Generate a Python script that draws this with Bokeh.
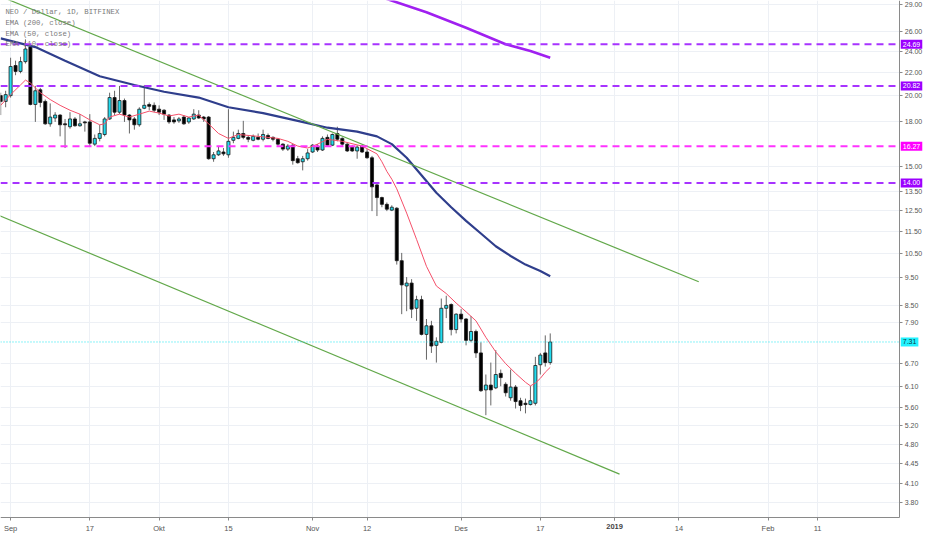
import pandas as pd
from datetime import datetime
from bokeh.plotting import figure
from bokeh.models import (Range1d, FixedTicker, PrintfTickFormatter, Label,
                          ColumnDataSource, DatetimeAxis)
from bokeh.embed import file_html
from bokeh.resources import INLINE

# ---------------- data ----------------
start_date = "2018-08-30"
end_date = "2018-12-19"
opens = [20.01, 19.54, 20.01, 22.63, 22.09, 22.99, 24.40, 19.30, 20.49, 19.54,
         17.83, 18.26, 18.48, 17.83, 17.62, 18.19, 17.69, 17.97, 17.97, 16.41,
         16.80, 17.07, 18.19, 19.85, 18.70, 19.61, 18.48, 18.19, 17.76, 19.00,
         19.30, 19.23, 18.93, 18.85, 18.48, 18.12, 18.05, 18.33, 17.97, 18.19,
         18.48, 18.33, 18.33, 15.46, 15.71, 15.89, 15.71, 16.67, 16.80, 17.14,
         16.87, 16.67, 16.87, 16.74, 17.00, 16.87, 16.74, 16.41, 16.08, 16.34,
         15.46, 15.27, 15.46, 15.89, 16.28, 16.02, 16.87, 16.34, 17.14, 16.80,
         16.41, 16.21, 15.96, 16.28, 15.89, 15.52, 13.89, 13.19, 12.83, 12.53,
         12.63, 10.19, 9.19, 9.30, 8.39, 8.69, 7.54, 7.81, 7.21, 7.30,
         8.39, 8.52, 7.69, 8.19, 8.03, 7.36, 7.63, 6.99, 6.01, 6.13,
         6.06, 6.43, 6.15, 5.82, 6.08, 5.75, 5.69, 5.66, 5.69, 6.66,
         6.99, 6.72]
highs = [20.25, 20.41, 23.36, 23.08, 23.45, 25.18, 24.69, 20.82, 20.65, 19.69,
         19.38, 18.70, 18.55, 18.19, 18.70, 18.33, 18.55, 18.05, 18.55, 17.07,
         17.76, 18.33, 20.25, 20.41, 20.82, 19.77, 18.55, 18.33, 19.08, 20.90,
         19.46, 19.46, 19.23, 18.93, 18.55, 18.33, 18.33, 18.48, 18.33, 18.93,
         18.85, 18.41, 18.41, 15.89, 16.28, 16.15, 18.93, 17.27, 17.41, 18.05,
         17.00, 17.07, 17.14, 17.41, 17.14, 16.94, 16.80, 16.47, 16.41, 16.41,
         15.64, 15.64, 16.08, 16.41, 16.41, 16.94, 17.07, 17.14, 17.62, 16.87,
         16.47, 16.34, 16.34, 16.34, 16.08, 15.64, 14.00, 13.24, 12.93, 12.78,
         12.68, 10.52, 9.53, 9.45, 8.83, 8.83, 8.03, 7.97, 7.45, 8.73,
         8.83, 8.56, 8.22, 8.36, 8.06, 8.13, 7.69, 7.30, 6.40, 6.72,
         7.07, 6.53, 6.20, 6.53, 6.13, 5.82, 5.80, 6.11, 6.88, 6.99,
         7.51, 7.57]
lows = [18.48, 19.08, 19.85, 21.75, 21.92, 22.81, 19.23, 17.97, 19.08, 17.76,
        17.62, 17.97, 16.94, 16.15, 17.48, 17.62, 17.62, 17.27, 16.28, 16.28,
        16.60, 16.94, 18.12, 18.48, 18.55, 17.97, 17.14, 17.41, 17.62, 18.93,
        18.85, 18.70, 18.48, 18.12, 17.83, 17.83, 17.90, 17.76, 17.83, 18.12,
        18.19, 17.97, 15.40, 15.27, 15.64, 15.64, 15.52, 16.47, 16.74, 16.74,
        16.54, 16.60, 16.67, 16.60, 16.74, 16.60, 16.28, 15.96, 15.96, 15.09,
        15.15, 14.74, 15.34, 15.83, 15.89, 15.96, 16.28, 16.28, 16.60, 16.28,
        15.89, 15.89, 15.46, 15.83, 15.46, 12.48, 12.23, 12.68, 12.48, 12.48,
        10.03, 8.19, 8.29, 8.06, 7.97, 7.51, 6.80, 6.99, 6.72, 7.27,
        8.06, 7.51, 7.57, 7.91, 7.21, 7.30, 6.85, 5.96, 5.42, 5.64,
        6.03, 6.10, 5.85, 5.75, 5.57, 5.51, 5.46, 5.64, 5.64, 6.40,
        6.61, 6.66]
closes = [19.54, 20.09, 22.54, 22.09, 22.99, 24.21, 19.30, 20.41, 19.46, 17.83,
          18.33, 18.48, 17.76, 17.76, 18.19, 17.69, 17.83, 17.90, 16.47, 16.80,
          17.14, 18.19, 19.85, 18.70, 19.61, 18.48, 18.12, 17.76, 18.93, 19.23,
          19.15, 18.85, 18.70, 18.55, 17.97, 17.97, 18.19, 17.83, 18.26, 18.55,
          18.26, 18.19, 15.46, 15.71, 15.96, 15.77, 16.60, 16.87, 17.14, 16.87,
          16.74, 16.94, 16.74, 17.07, 16.80, 16.74, 16.41, 16.08, 16.28, 15.34,
          15.21, 15.46, 15.83, 16.34, 16.02, 16.80, 16.34, 17.07, 16.74, 16.41,
          15.96, 15.96, 16.21, 15.89, 15.52, 13.78, 13.19, 12.83, 12.58, 12.68,
          10.19, 9.23, 9.30, 8.36, 8.69, 7.54, 7.81, 7.19, 7.33, 8.39,
          8.49, 7.69, 8.19, 8.03, 7.36, 7.63, 6.99, 5.99, 6.13, 6.01,
          6.40, 6.32, 5.94, 6.08, 5.73, 5.64, 5.66, 5.75, 6.64, 6.93,
          6.72, 7.31]

ema10_dates = ["2018-08-30", "2018-09-01", "2018-09-03", "2018-09-04", "2018-09-05", "2018-09-07",
               "2018-09-09", "2018-09-11", "2018-09-13", "2018-09-15", "2018-09-17", "2018-09-19",
               "2018-09-20", "2018-09-21", "2018-09-23", "2018-09-25", "2018-09-27", "2018-09-29",
               "2018-10-01", "2018-10-03", "2018-10-05", "2018-10-07", "2018-10-09", "2018-10-11",
               "2018-10-13", "2018-10-15", "2018-10-17", "2018-10-21", "2018-10-25", "2018-10-27",
               "2018-10-29", "2018-10-31", "2018-11-02", "2018-11-04", "2018-11-07", "2018-11-11",
               "2018-11-14", "2018-11-15", "2018-11-16", "2018-11-17", "2018-11-18", "2018-11-20",
               "2018-11-22", "2018-11-24", "2018-11-26", "2018-11-28", "2018-11-30", "2018-12-02",
               "2018-12-04", "2018-12-06", "2018-12-08", "2018-12-10", "2018-12-12", "2018-12-14",
               "2018-12-15", "2018-12-16", "2018-12-17", "2018-12-18", "2018-12-19"]
ema10 = [19.23, 20.09, 20.90, 21.32, 21.07, 20.25,
         19.69, 19.23, 18.85, 18.55, 18.12, 17.76,
         17.83, 18.33, 18.55, 18.33, 18.55, 18.78,
         18.63, 18.41, 18.55, 18.33, 18.48, 17.83,
         17.14, 16.80, 17.07, 16.94, 16.80, 16.60,
         16.28, 16.15, 16.41, 16.74, 16.60, 16.28,
         15.77, 15.27, 14.68, 14.22, 13.67, 12.38,
         11.12, 9.96, 9.19, 8.91, 8.57, 8.27,
         7.97, 7.45, 7.02, 6.69, 6.43, 6.20,
         6.11, 6.18, 6.30, 6.46, 6.59]

ema50_dates = ["2018-08-30", "2018-09-06", "2018-09-12", "2018-09-19", "2018-09-26", "2018-10-02",
               "2018-10-09", "2018-10-15", "2018-10-22", "2018-10-29", "2018-11-04", "2018-11-10",
               "2018-11-14", "2018-11-17", "2018-11-20", "2018-11-23", "2018-11-26", "2018-11-29",
               "2018-12-02", "2018-12-05", "2018-12-08", "2018-12-11", "2018-12-14", "2018-12-17",
               "2018-12-19"]
ema50 = [25.28, 24.40, 23.08, 21.66, 20.90, 20.33,
         19.85, 19.08, 18.63, 18.05, 17.55, 17.27,
         16.94, 16.41, 15.52, 14.45, 13.45, 12.68,
         11.99, 11.39, 10.81, 10.39, 10.03, 9.77,
         9.56]

ema200_dates = ["2018-11-15", "2018-11-24", "2018-12-02", "2018-12-10", "2018-12-15", "2018-12-19"]
ema200 = [29.90, 28.14, 26.41, 24.69, 24.01, 23.36]

trend_upper_dates = ["2018-08-29", "2019-01-18"]
trend_upper = [30.25, 9.35]
trend_lower_dates = ["2018-08-29", "2019-01-02"]
trend_lower = [12.33, 4.26]

levels = [24.69, 20.82, 16.27, 14.00]
level_line_colors = ["#a733ff", "#a733ff", "#ff33ff", "#a733ff"]
level_box_colors = ["#9c00ff", "#9c00ff", "#ff00ff", "#9c00ff"]
last_price = 7.31

y_ticks = [29.0, 26.0, 24.0, 22.0, 20.0, 18.0, 15.0, 13.5, 12.5, 11.5, 10.5, 9.5,
           8.5, 7.9, 6.7, 6.1, 5.6, 5.2, 4.8, 4.45, 4.1, 3.8]
x_tick_dates = ["2018-09-01", "2018-09-17", "2018-10-01", "2018-10-15", "2018-11-01", "2018-11-12",
                "2018-12-01", "2018-12-17", "2019-01-01", "2019-01-14", "2019-02-01", "2019-02-11"]
x_tick_labels = ["Sep", "17", "Okt", "15", "Nov", "12", "Des", "17", "", "14", "Feb", "11"]
year_tick_date = "2019-01-01"
year_tick_label = "2019"

legend_lines = ["NEO / Dollar, 1D, BITFINEX", "EMA (200, close)", "EMA (50, close)", "EMA (10, close)"]

# ---------------- helpers ----------------
EPOCH = datetime(1970, 1, 1)
DAY = 86400000.0
FONT = "Liberation Sans"


def ms(s):
    return (datetime.strptime(s, "%Y-%m-%d") - EPOCH).total_seconds() * 1000.0


def ms_list(lst):
    return [ms(s) for s in lst]


dates = pd.date_range(start_date, end_date, freq="D")
dms = [(d.to_pydatetime() - EPOCH).total_seconds() * 1000.0 for d in dates]

top = [max(o, c) for o, c in zip(opens, closes)]
bot = [min(o, c) for o, c in zip(opens, closes)]
fill = ["#22dcef" if c >= o else "#000000" for o, c in zip(opens, closes)]
src = ColumnDataSource(dict(x=dms, high=highs, low=lows, top=top, bot=bot, fill=fill))

# view extents: the frame covers the whole canvas, the price scale sits inside it
x0 = ms("2018-09-01") - 2.04 * DAY      # left edge
xa = ms("2018-09-01") + 179.6 * DAY     # price-axis line
x1 = ms("2018-09-01") + 184.6 * DAY     # right edge
y1 = 29.517                             # top edge
ya = 3.561                              # time-axis line
y0 = 3.328                              # bottom edge

p = figure(width=924, height=534, x_axis_type="datetime", y_axis_type="log",
           y_axis_location="right", x_range=Range1d(x0, x1), y_range=Range1d(y0, y1),
           output_backend="svg", toolbar_location=None,
           min_border_left=0, min_border_top=0, min_border_right=0, min_border_bottom=0)
p.outline_line_color = None
p.background_fill_color = "white"
p.border_fill_color = "white"

# grid
p.xgrid.ticker = FixedTicker(ticks=ms_list(x_tick_dates))
p.ygrid.ticker = FixedTicker(ticks=y_ticks)
p.xgrid.grid_line_color = "#edf0f5"
p.ygrid.grid_line_color = "#edf0f5"
try:
    p.ygrid.cross_bounds = (x0, xa)
    p.xgrid.cross_bounds = (ya, y1)
except Exception:
    pass

# axes (fixed inside the frame)
p.yaxis.ticker = FixedTicker(ticks=y_ticks)
p.yaxis.formatter = PrintfTickFormatter(format="%.2f")
p.yaxis.fixed_location = xa
p.yaxis.bounds = (ya, y1)
p.xaxis.ticker = FixedTicker(ticks=ms_list(x_tick_dates))
p.xaxis.major_label_overrides = {ms(d): l for d, l in zip(x_tick_dates, x_tick_labels)}
p.xaxis.fixed_location = ya
p.xaxis.bounds = (x0, xa)
for ax in (p.xaxis, p.yaxis):
    ax.axis_line_color = "#8a8a8a"
    ax.major_tick_line_color = "#8a8a8a"
    ax.minor_tick_line_color = None
    ax.major_tick_in = 0
    ax.major_tick_out = 3
    ax.major_label_text_color = "#555555"
    ax.major_label_text_font = FONT
    ax.major_label_text_font_size = "7px"
    ax.major_label_standoff = 2
p.xaxis.major_label_text_font_size = "7.5px"
p.xaxis.major_label_standoff = 3

year_ax = DatetimeAxis(ticker=FixedTicker(ticks=[ms(year_tick_date)]), fixed_location=ya,
                       axis_line_color=None, major_tick_in=0, major_tick_out=3,
                       major_tick_line_color="#8a8a8a", minor_tick_line_color=None,
                       major_label_standoff=3, major_label_text_color="#444444",
                       major_label_text_font=FONT, major_label_text_font_size="7.5px",
                       major_label_text_font_style="bold")
year_ax.major_label_overrides = {ms(year_tick_date): year_tick_label}
p.add_layout(year_ax, "below")

# candles
p.segment(x0="x", y0="low", x1="x", y1="high", source=src, line_color="#666666", line_width=1)
p.vbar(x="x", width=0.62 * DAY, top="top", bottom="bot", source=src,
       fill_color="fill", line_color="#1a1a1a", line_width=0.8)

# EMAs
p.line(ms_list(ema10_dates), ema10, line_color="#f5506a", line_width=1)
p.line(ms_list(ema50_dates), ema50, line_color="#2f3e8c", line_width=2.2)
p.line(ms_list(ema200_dates), ema200, line_color="#a020f0", line_width=2.6)

# trend lines
p.line(ms_list(trend_upper_dates), trend_upper, line_color="#62a84a", line_width=1.2)
p.line(ms_list(trend_lower_dates), trend_lower, line_color="#62a84a", line_width=1.2)

# horizontal levels with price boxes on the scale
lev_src = ColumnDataSource(dict(y=levels, c=level_line_colors))
p.segment(x0=x0, x1=xa, y0="y", y1="y", source=lev_src, line_color="c", line_width=2,
          line_dash="7 5")
p.segment(x0=x0, x1=xa, y0=last_price, y1=last_price, line_color="#19e6f0", line_width=1,
          line_dash="1 2")
for lvl, bc in zip(levels, level_box_colors):
    p.add_layout(Label(x=xa, y=lvl, text="%.2f" % lvl, text_align="left", text_baseline="middle",
                       text_color="white", text_font=FONT, text_font_size="7px",
                       background_fill_color=bc, padding=2, x_offset=1))
p.add_layout(Label(x=xa, y=last_price, text="%.2f" % last_price, text_align="left",
                   text_baseline="middle", text_color="#0a3a40", text_font=FONT,
                   text_font_size="7px", background_fill_color="#22f2ff", padding=2, x_offset=1))

# legend text (top-left)
leg_y = [28.11, 26.91, 25.79, 24.72]
for t, yy in zip(legend_lines, leg_y):
    p.add_layout(Label(x=x0 + 1.0 * DAY, y=yy, text=t, text_align="left", text_baseline="middle",
                       text_color="#7a7a7a", text_font="Liberation Mono", text_font_size="7.3px"))

open("out.html", "w").write(file_html(p, INLINE))
